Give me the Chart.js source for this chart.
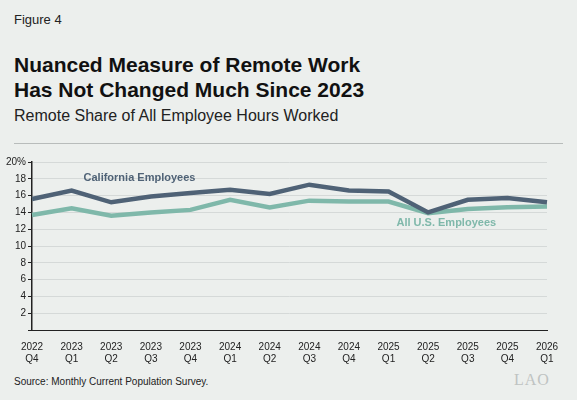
<!DOCTYPE html>
<html><head><meta charset="utf-8">
<script src="https://cdn.jsdelivr.net/npm/chart.js"></script>
<style>
body{margin:0;background:#fff;}
#wrap{position:absolute;left:0;top:0;width:577px;height:400px;background:#ecefed;font-family:"Liberation Sans",Arial,sans-serif;}
#fig{position:absolute;left:14px;top:12px;font-size:13px;color:#222;}
#t{position:absolute;left:14px;top:52px;font-size:21px;font-weight:bold;color:#111;line-height:25px;}
#st{position:absolute;left:14px;top:107px;font-size:16px;color:#222;}
#rule{position:absolute;left:14px;top:143px;width:549px;border-top:1px solid #b8bcbb;}
#src{position:absolute;left:14px;top:376px;font-size:10px;color:#222;}
#lao{position:absolute;left:514px;top:371px;font-size:16px;color:#bfc3c2;font-family:"Liberation Serif",serif;letter-spacing:1px;}
#cv{position:absolute;left:0;top:154px;}
</style></head><body>
<div id="wrap">
<div id="fig">Figure 4</div>
<div id="t">Nuanced Measure of Remote Work<br>Has Not Changed Much Since 2023</div>
<div id="st">Remote Share of All Employee Hours Worked</div>
<div id="rule"></div>
<div id="cv"><canvas id="c" width="577" height="214"></canvas></div>
<div id="src">Source: Monthly Current Population Survey.</div>
<div id="lao">LAO</div>
</div>
<script>
const years=["2022","2023","2023","2023","2023","2024","2024","2024","2024","2025","2025","2025","2025","2026"];
const quarters=["Q4","Q1","Q2","Q3","Q4","Q1","Q2","Q3","Q4","Q1","Q2","Q3","Q4","Q1"];
const california=[15.6,16.6,15.2,15.9,16.3,16.7,16.2,17.3,16.6,16.5,14.0,15.5,15.7,15.2];
const allUS=[13.7,14.5,13.6,14.0,14.3,15.5,14.6,15.4,15.3,15.3,13.9,14.4,14.6,14.7];
const labels=years.map((y,i)=>[y,quarters[i]]);
const annot={id:'annot',afterDatasetsDraw(ch){
 const c=ch.ctx,x=ch.scales.x,y=ch.scales.y;
 c.save();c.font='bold 11px "Liberation Sans",Arial';c.textBaseline='middle';
 c.fillStyle='#4f6276';c.fillText('California Employees',x.getPixelForValue(1.3),y.getPixelForValue(18.1));
 c.fillStyle='#7fb8aa';c.fillText('All U.S. Employees',x.getPixelForValue(9.2),y.getPixelForValue(12.8));
 c.restore();}};
new Chart(document.getElementById('c'),{type:'line',
data:{labels,datasets:[
 {data:california,borderColor:'#4f6276',borderWidth:4.5,pointRadius:0,tension:0},
 {data:allUS,borderColor:'#7fb8aa',borderWidth:4.5,pointRadius:0,tension:0}]},
options:{responsive:false,animation:false,layout:{padding:{left:4,right:30,top:6,bottom:0}},
 plugins:{legend:{display:false},tooltip:{enabled:false}},
 scales:{
  x:{offset:false,grid:{display:false},border:{color:'#222',width:1},
     ticks:{color:'#222',font:{size:10,family:'"Liberation Sans",Arial'},maxRotation:0,autoSkip:false}},
  y:{min:0,max:20,grid:{color:'#d5d9d8',tickLength:4,tickColor:'#222'},border:{color:'#222',width:1.5},
     ticks:{stepSize:2,color:'#222',font:{size:10,family:'"Liberation Sans",Arial'},padding:2,
       callback:v=>v===0?'':(v===20?'20%':v)}}}},
plugins:[annot]});
</script></body></html>
